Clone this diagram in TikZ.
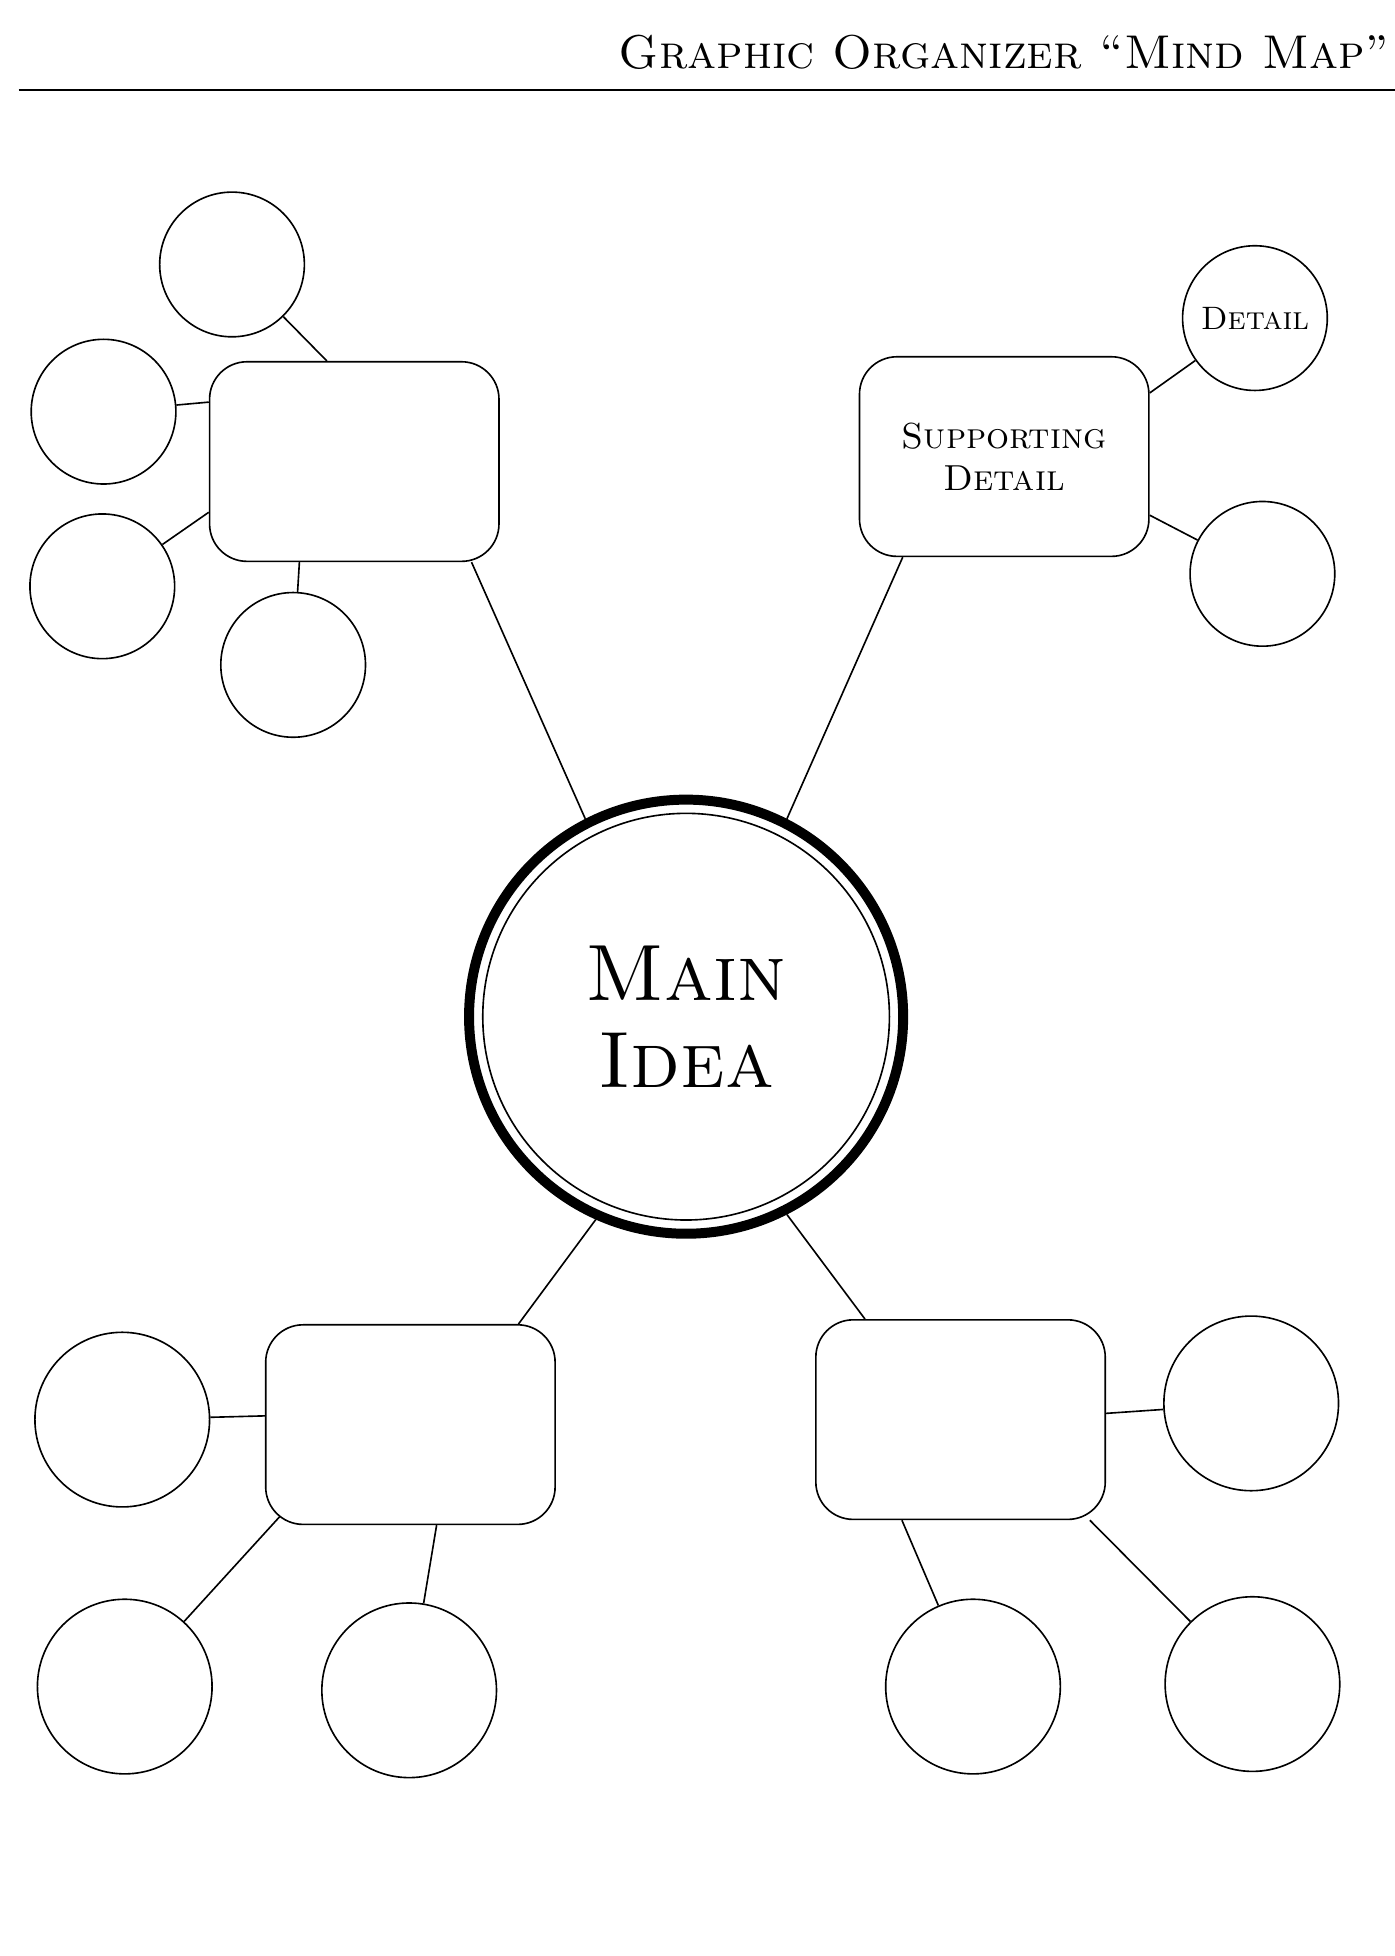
\documentclass[tikz,border=0pt]{standalone}
\usepackage{tikz}
\usetikzlibrary{calc,positioning}
\tikzstyle{bub}=[draw, circle, line width=1.3pt, inner sep=0, minimum size=116pt]
\tikzstyle{bigbub}=[draw, circle, line width=1.3pt, inner sep=0, minimum size=140pt]
\tikzstyle{sup}=[draw, rounded corners=30pt, line width=1.3pt, inner sep=0, minimum width=232pt, minimum height=160pt, align=center]
\tikzstyle{link}=[line width=1.3pt]
\begin{document}
\begin{tikzpicture}[x=1pt,y=-1pt]
	\useasboundingbox (0,0) rectangle (1118,1568);
	% title
	\node[anchor=base east, inner sep=0, font=\fontsize{38}{42}\selectfont] (title) at (1114,55) {\textsc{Graphic Organizer ``Mind Map''}};
	\coordinate (rl) at (15,72);
	\coordinate (rr) at (1118,72);
	\draw[line width=1.6pt] (rl) -- (rr);
	% main idea
	\node[draw, circle, line width=8pt, minimum size=348pt, inner sep=0] (main) at (550,815) {};
	\node[draw, circle, line width=1.3pt, minimum size=326pt, inner sep=0, align=center, font=\fontsize{64}{66}\selectfont] (mainin) at (550,815) {\textsc{Main}\\[4pt]\textsc{Idea}};
	% top left
	\node[sup] (tl) at (284,370) {};
	\node[bub] (tla) at (186,212) {};
	\node[bub] (tlb) at (83,330) {};
	\node[bub] (tlc) at (82,470) {};
	\node[bub] (tld) at (235,533) {};
	\draw[link] ([xshift=-22pt]tl.north) -- (tla);
	\draw[link] ([yshift=-33pt]tl.north west) -- (tlb);
	\draw[link] ([yshift=40pt]tl.south west) -- (tlc);
	\draw[link] ([xshift=-44pt]tl.south) -- (tld);
	\draw[link] ([xshift=94pt]tl.south) -- (main.117);
	% top right
	\node[sup, font=\fontsize{29}{34}\selectfont] (tr) at (805,366) {\textsc{Supporting}\\\textsc{Detail}};
	\node[bub, font=\fontsize{26}{30}\selectfont] (tra) at (1006,255) {\textsc{Detail}};
	\node[bub] (trb) at (1012,460) {};
	\draw[link] ([yshift=51pt]tr.east) -- (tra);
	\draw[link] ([yshift=-47pt]tr.east) -- (trb);
	\draw[link] ([xshift=-198pt]tr.south east) -- (main.63);
	% bottom left
	\node[sup] (bl) at (329,1142) {};
	\node[bigbub] (bla) at (98,1138) {};
	\node[bigbub] (blb) at (100,1352) {};
	\node[bigbub] (blc) at (328,1355) {};
	\draw[link] ([yshift=7pt]bl.west) -- (bla);
	\draw[link] ([xshift=12pt,yshift=7pt]bl.south west) -- (blb);
	\draw[link] ([xshift=21pt]bl.south) -- (blc);
	\draw[link] ([xshift=-30pt]bl.north east) -- (main.246);
	% bottom right
	\node[sup] (br) at (770,1138) {};
	\node[bigbub] (bra) at (1003,1125) {};
	\node[bigbub] (brb) at (780,1352) {};
	\node[bigbub] (brc) at (1004,1350) {};
	\draw[link] ([yshift=5pt]br.east) -- (bra);
	\draw[link] ([xshift=-47pt]br.south) -- (brb);
	\draw[link] ([xshift=-13pt]br.south east) -- (brc);
	\draw[link] ([xshift=40pt]br.north west) -- (main.297);
\end{tikzpicture}
\end{document}
